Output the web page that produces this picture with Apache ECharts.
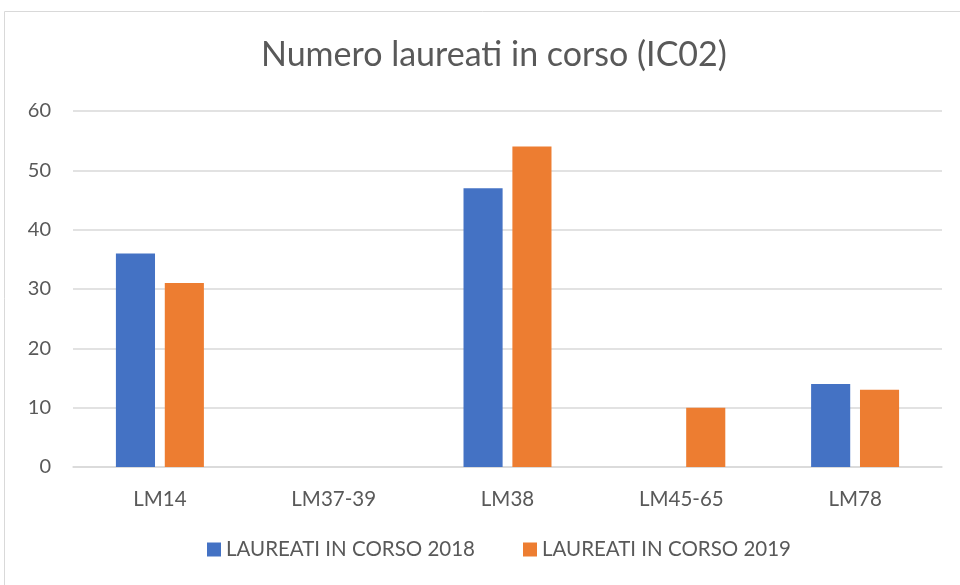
<!DOCTYPE html>
<html>
<head>
<meta charset="utf-8">
<script src="https://cdn.jsdelivr.net/npm/echarts@6/dist/echarts.min.js"></script>
<style>
  html, body { margin: 0; padding: 0; background: #fff; }
  #chart { width: 960px; height: 585px; }
</style>
</head>
<body>
<div id="chart"></div>
<script>
  // dati
  var categories = ['LM14', 'LM37-39', 'LM38', 'LM45-65', 'LM78'];
  var laureati2018 = [36, null, 47, null, 14];
  var laureati2019 = [31, null, 54, 10, 13];
  var yTicks = [0, 10, 20, 30, 40, 50, 60];

  var font = 'Lato, "Open Sans", sans-serif';
  var textColor = '#595959';

  var chart = echarts.init(document.getElementById('chart'));
  chart.setOption({
    animation: false,
    textStyle: { fontFamily: font },
    graphic: [{
      type: 'rect',
      shape: { x: 4.5, y: 11.5, width: 970, height: 600 },
      style: { fill: 'none', stroke: '#d9d9d9', lineWidth: 1 },
      silent: true
    }],
    title: {
      text: 'Numero laureati in corso (IC02)',
      left: 256,
      top: 33,
      textStyle: { fontFamily: font, fontSize: 34, fontWeight: 'normal', color: textColor }
    },
    legend: {
      bottom: 20,
      left: 202,
      itemWidth: 14,
      itemHeight: 14,
      itemGap: 48,
      icon: 'rect',
      textStyle: { fontFamily: font, fontSize: 20.5, color: textColor }
    },
    grid: { left: 73, right: 18, top: 111, bottom: 118 },
    xAxis: {
      type: 'category',
      data: categories,
      axisLine: { lineStyle: { color: '#d9d9d9', width: 1.5 } },
      axisTick: { show: false },
      axisLabel: { fontSize: 20.5, color: textColor, margin: 22 }
    },
    yAxis: {
      type: 'value',
      min: yTicks[0],
      max: yTicks[yTicks.length - 1],
      interval: 10,
      axisLine: { show: false },
      axisTick: { show: false },
      axisLabel: { fontSize: 20, color: textColor, margin: 22 },
      splitLine: { lineStyle: { color: '#d9d9d9', width: 1.5 } }
    },
    series: [{
      name: 'LAUREATI IN CORSO 2018',
      type: 'bar',
      data: laureati2018,
      barWidth: '22.5%',
      barGap: '25%',
      itemStyle: { color: '#4472c4' }
    }, {
      name: 'LAUREATI IN CORSO 2019',
      type: 'bar',
      data: laureati2019,
      barWidth: '22.5%',
      barGap: '25%',
      itemStyle: { color: '#ed7d31' }
    }]
  });
</script>
</body>
</html>
